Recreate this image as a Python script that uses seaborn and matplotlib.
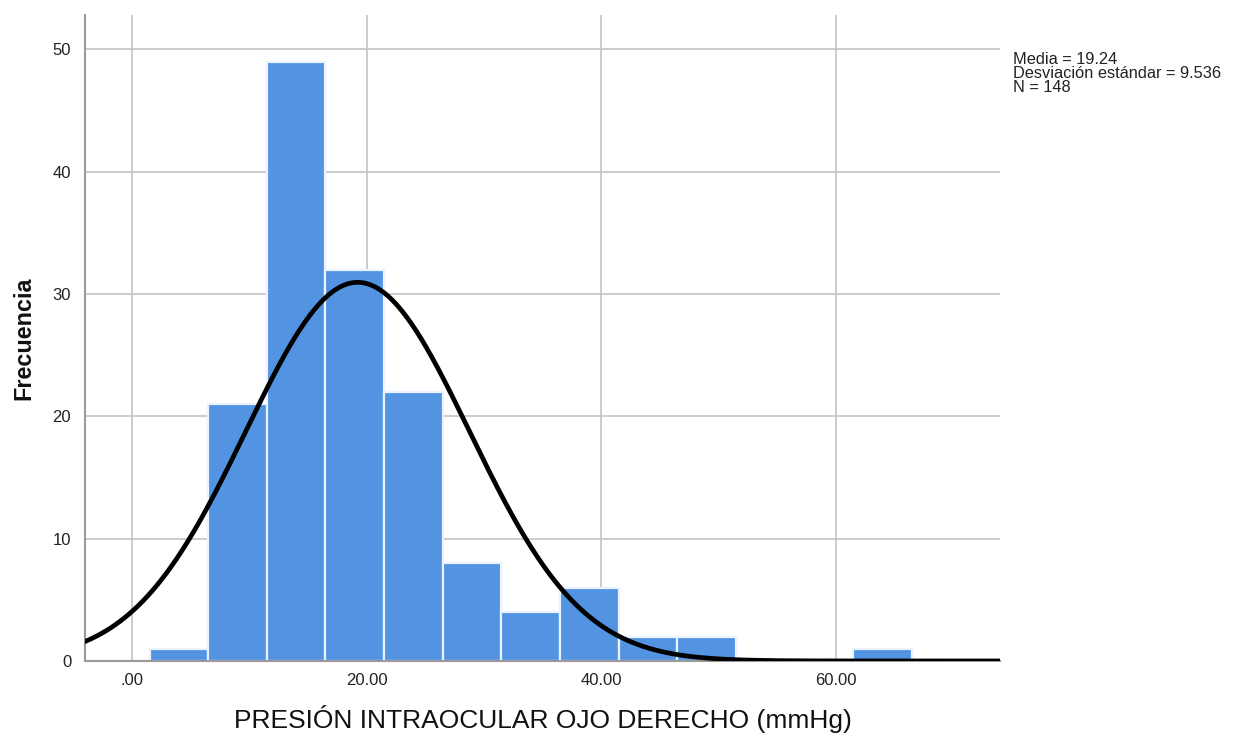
import numpy as np
import pandas as pd
import matplotlib
matplotlib.use("Agg")
import matplotlib.pyplot as plt
import seaborn as sns

# Histogram of right-eye intraocular pressure (mmHg)
bin_edges = [1.5, 6.5, 11.5, 16.5, 21.5, 26.5, 31.5, 36.5, 41.5, 46.5, 51.5, 56.5, 61.5, 66.5]
counts = [1, 21, 49, 32, 22, 8, 4, 6, 2, 2, 0, 0, 1]
x_ticks = [0, 20, 40, 60]
x_tick_labels = [".00", "20.00", "40.00", "60.00"]
y_ticks = [0, 10, 20, 30, 40, 50]
mean_val = 19.24
sd_val = 9.536
n_val = 148

sns.set_theme(style="white")
plt.rcParams["font.family"] = ["Liberation Sans", "DejaVu Sans"]

fig = plt.figure(figsize=(12.36, 7.44), dpi=100)
ax = fig.add_axes([0.0688, 0.1116, 0.7402, 0.868])

centers = [(a + b) / 2 for a, b in zip(bin_edges[:-1], bin_edges[1:])]
df = pd.DataFrame({"pio": centers, "freq": counts})

ax.set_axisbelow(True)
for xt in x_ticks:
    ax.axvline(xt, color="#c4c4c4", lw=1.2, zorder=0)
for yt in y_ticks[1:]:
    ax.axhline(yt, color="#c4c4c4", lw=1.2, zorder=0)

sns.histplot(data=df, x="pio", weights="freq", bins=bin_edges, ax=ax,
             color="#5294e2", alpha=1.0, edgecolor="#eaf3ff", linewidth=1.6,
             zorder=2)

# Fitted normal curve scaled to counts per bin
width = bin_edges[1] - bin_edges[0]
xs = np.linspace(-4, 74, 600)
ys = n_val * width / (sd_val * np.sqrt(2 * np.pi)) * np.exp(-0.5 * ((xs - mean_val) / sd_val) ** 2)
sns.lineplot(x=xs, y=ys, ax=ax, color="black", lw=3.4, zorder=3)

ax.set_xlim(-4, 74)
ax.set_ylim(0, 52.8)
ax.set_xticks(x_ticks)
ax.set_xticklabels(x_tick_labels)
ax.set_yticks(y_ticks)
ax.tick_params(axis="both", length=0, labelsize=12, colors="#222222")
ax.tick_params(axis="x", pad=9)
ax.tick_params(axis="y", pad=10)

for side in ["top", "right"]:
    ax.spines[side].set_visible(False)
ax.spines["left"].set_color("#9a9a9a")
ax.spines["left"].set_linewidth(1.5)
ax.spines["bottom"].set_color("#9a9a9a")
ax.spines["bottom"].set_linewidth(1.5)

ax.set_xlabel("PRESIÓN INTRAOCULAR OJO DERECHO (mmHg)", fontsize=19, labelpad=12, color="#111111")
ax.set_ylabel("Frecuencia", fontsize=16.8, fontweight="bold", labelpad=12, color="#111111")

fig.text(1013 / 1236, 1 - 52 / 744,
         f"Media = {mean_val:.2f}\nDesviación estándar = {sd_val:.3f}\nN = {n_val}",
         ha="left", va="top", fontsize=11.8, linespacing=0.92, color="#222222")

fig.savefig("out.png", dpi=100)
